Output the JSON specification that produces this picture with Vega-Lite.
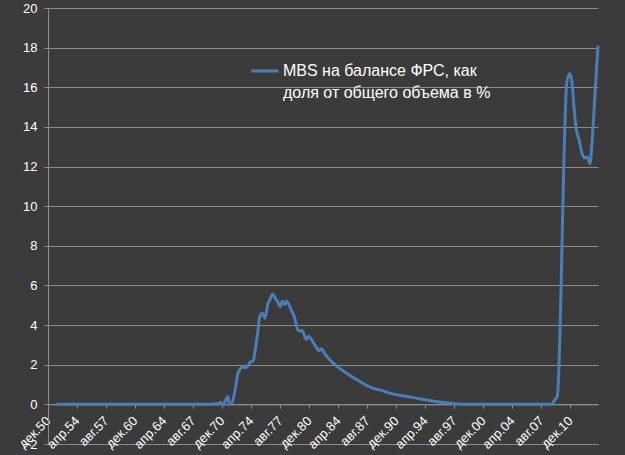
{
  "$schema": "https://vega.github.io/schema/vega-lite/v6.json",
  "width": 550,
  "height": 436,
  "autosize": {"type": "none"},
  "padding": {"left": 48, "top": 8, "right": 27, "bottom": 11},
  "background": "#3b3b3b",
  "config": {
    "view": {"stroke": null},
    "font": "Liberation Sans",
    "style": {"guide-label": {"lineHeight": 22}}
  },
  "data": {
    "values": [
      {"date": "1951-12-01", "value": 0},
      {"date": "1954-01-01", "value": 0},
      {"date": "1957-01-01", "value": 0},
      {"date": "1960-01-01", "value": 0},
      {"date": "1963-01-01", "value": 0},
      {"date": "1966-01-01", "value": 0},
      {"date": "1969-12-01", "value": 0},
      {"date": "1970-03-01", "value": 0.05},
      {"date": "1970-06-01", "value": 0},
      {"date": "1970-09-01", "value": 0.1},
      {"date": "1971-01-01", "value": 0},
      {"date": "1971-04-01", "value": 0.15},
      {"date": "1971-08-01", "value": 0.4},
      {"date": "1971-10-01", "value": 0},
      {"date": "1972-01-01", "value": 0.05},
      {"date": "1972-06-01", "value": 0.75},
      {"date": "1972-10-01", "value": 1.6},
      {"date": "1972-12-01", "value": 1.73},
      {"date": "1973-04-01", "value": 1.9},
      {"date": "1973-08-01", "value": 1.85},
      {"date": "1973-11-01", "value": 1.9},
      {"date": "1974-02-01", "value": 2.1},
      {"date": "1974-07-01", "value": 2.2},
      {"date": "1974-09-01", "value": 2.6},
      {"date": "1975-01-01", "value": 3.6},
      {"date": "1975-04-01", "value": 4.45},
      {"date": "1975-08-01", "value": 4.6},
      {"date": "1975-11-01", "value": 4.35},
      {"date": "1976-03-01", "value": 5.05},
      {"date": "1976-06-01", "value": 5.3},
      {"date": "1976-10-01", "value": 5.57},
      {"date": "1977-01-01", "value": 5.37},
      {"date": "1977-05-01", "value": 5.15},
      {"date": "1977-08-01", "value": 4.92},
      {"date": "1977-11-01", "value": 5.2},
      {"date": "1978-02-01", "value": 5.04},
      {"date": "1978-05-01", "value": 5.2},
      {"date": "1978-09-01", "value": 4.95},
      {"date": "1978-12-01", "value": 4.7},
      {"date": "1979-04-01", "value": 4.37},
      {"date": "1979-08-01", "value": 3.78},
      {"date": "1979-11-01", "value": 3.7},
      {"date": "1980-02-01", "value": 3.74},
      {"date": "1980-08-01", "value": 3.27},
      {"date": "1980-11-01", "value": 3.44},
      {"date": "1981-06-01", "value": 3.1},
      {"date": "1982-02-01", "value": 2.72},
      {"date": "1982-05-01", "value": 2.8},
      {"date": "1982-10-01", "value": 2.52},
      {"date": "1983-05-01", "value": 2.23},
      {"date": "1984-02-01", "value": 1.93},
      {"date": "1985-01-01", "value": 1.63},
      {"date": "1986-05-01", "value": 1.26},
      {"date": "1987-09-01", "value": 0.92},
      {"date": "1988-06-01", "value": 0.79},
      {"date": "1989-03-01", "value": 0.72},
      {"date": "1989-12-01", "value": 0.59},
      {"date": "1991-06-01", "value": 0.45},
      {"date": "1992-12-01", "value": 0.34},
      {"date": "1994-06-01", "value": 0.22},
      {"date": "1995-12-01", "value": 0.12},
      {"date": "1997-06-01", "value": 0.05},
      {"date": "1998-12-01", "value": 0},
      {"date": "2002-01-01", "value": 0},
      {"date": "2005-01-01", "value": 0},
      {"date": "2008-10-01", "value": 0},
      {"date": "2009-03-01", "value": 0.25},
      {"date": "2009-06-01", "value": 0.42},
      {"date": "2010-07-01", "value": 16.2},
      {"date": "2010-11-01", "value": 16.7},
      {"date": "2011-02-01", "value": 16.3},
      {"date": "2011-05-01", "value": 15.0},
      {"date": "2011-08-01", "value": 13.9},
      {"date": "2011-12-01", "value": 13.35},
      {"date": "2012-04-01", "value": 12.68},
      {"date": "2012-07-01", "value": 12.43},
      {"date": "2012-11-01", "value": 12.48},
      {"date": "2013-01-01", "value": 12.34},
      {"date": "2013-03-01", "value": 12.14},
      {"date": "2013-06-01", "value": 13.35},
      {"date": "2013-10-01", "value": 15.7},
      {"date": "2014-02-01", "value": 18.1}
    ]
  },
  "mark": {"type": "line", "strokeWidth": 3, "interpolate": "monotone"},
  "encoding": {
    "x": {
      "field": "date",
      "type": "temporal",
      "scale": {
        "type": "utc",
        "domain": [
          {"year": 1950, "month": 12, "date": 1, "utc": true},
          {"year": 2014, "month": 2, "date": 1, "utc": true}
        ]
      },
      "axis": {
        "title": null,
        "grid": false,
        "offset": -39.6,
        "values": [
          {"year": 1950, "month": 12, "date": 1, "utc": true},
          {"year": 1954, "month": 4, "date": 1, "utc": true},
          {"year": 1957, "month": 8, "date": 1, "utc": true},
          {"year": 1960, "month": 12, "date": 1, "utc": true},
          {"year": 1964, "month": 4, "date": 1, "utc": true},
          {"year": 1967, "month": 8, "date": 1, "utc": true},
          {"year": 1970, "month": 12, "date": 1, "utc": true},
          {"year": 1974, "month": 4, "date": 1, "utc": true},
          {"year": 1977, "month": 8, "date": 1, "utc": true},
          {"year": 1980, "month": 12, "date": 1, "utc": true},
          {"year": 1984, "month": 4, "date": 1, "utc": true},
          {"year": 1987, "month": 8, "date": 1, "utc": true},
          {"year": 1990, "month": 12, "date": 1, "utc": true},
          {"year": 1994, "month": 4, "date": 1, "utc": true},
          {"year": 1997, "month": 8, "date": 1, "utc": true},
          {"year": 2000, "month": 12, "date": 1, "utc": true},
          {"year": 2004, "month": 4, "date": 1, "utc": true},
          {"year": 2007, "month": 8, "date": 1, "utc": true},
          {"year": 2010, "month": 12, "date": 1, "utc": true}
        ],
        "labelExpr": "(utcmonth(datum.value)==11?'дек':utcmonth(datum.value)==3?'апр':'авг')+'.'+utcFormat(datum.value,'%y')",
        "domainColor": "#8c8c8c",
        "tickColor": "#8c8c8c",
        "tickSize": 4,
        "labelAngle": -45,
        "labelAlign": "right",
        "labelBaseline": "middle",
        "labelPadding": 10,
        "labelColor": "#ffffff",
        "labelFontSize": 13,
        "labelOverlap": false,
        "labelFlush": false,
        "labelBound": false
      }
    },
    "y": {
      "field": "value",
      "type": "quantitative",
      "scale": {"domain": [-2, 20], "nice": false, "zero": false},
      "axis": {
        "title": null,
        "values": [-2, 0, 2, 4, 6, 8, 10, 12, 14, 16, 18, 20],
        "grid": true,
        "gridColor": "#8c8c8c",
        "gridWidth": 1,
        "domainColor": "#8c8c8c",
        "tickColor": "#8c8c8c",
        "tickSize": 4,
        "labelColor": "#ffffff",
        "labelFontSize": 13,
        "labelPadding": 7
      }
    },
    "color": {
      "datum": "MBS на балансе ФРС, как доля от общего объема в %",
      "scale": {"range": ["#4a7ebb"]},
      "legend": {
        "title": null,
        "orient": "none",
        "legendX": 202,
        "legendY": 48,
        "padding": 0,
        "symbolType": "stroke",
        "symbolSize": 729,
        "symbolStrokeWidth": 3,
        "labelColor": "#ffffff",
        "labelFontSize": 16,
        "labelLimit": 400,
        "labelOffset": 3,
        "labelExpr": "['MBS на балансе ФРС, как', 'доля от общего объема в %']"
      }
    }
  }
}
